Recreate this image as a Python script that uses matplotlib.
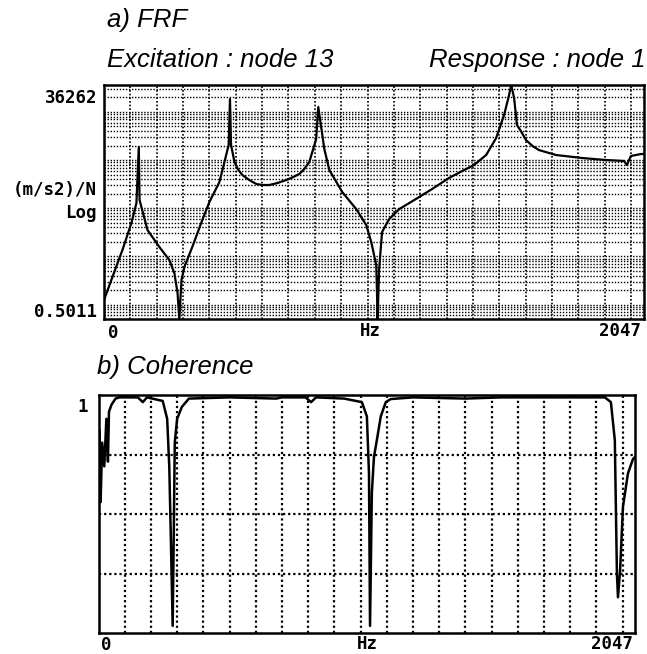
import numpy as np
import matplotlib.pyplot as plt

# ------------------------------- data ----------------------------------------------------

frf_hz = [0, 32, 70, 104, 123, 132, 135, 165, 210, 248, 267, 279, 286, 294, 305, 335,
          373, 400, 438, 457, 473, 478, 482, 495, 510, 525, 551, 578, 601, 627, 658,
          692, 718, 741, 760, 779, 805, 813, 836, 855, 904, 957, 995, 1014, 1033, 1036,
          1038, 1044, 1055, 1082, 1120, 1184, 1245, 1309, 1359, 1404, 1450, 1488, 1518,
          1537, 1545, 1556, 1567, 1584, 1601, 1626, 1650, 1715, 1814, 1904, 1973, 1984,
          1999, 2037, 2047]
frf_val = [1.24, 3.73, 13.6, 49.4, 128, 1870, 148, 35.3, 15.7, 8.4, 4.5, 1.74, 0.5011,
           3.23, 6.0, 15.7, 57, 135, 351, 913, 2060, 18560, 2060, 913, 623, 490, 386,
           319, 304, 304, 334, 386, 445, 514, 653, 913, 2740, 12650, 1700, 623, 217, 96,
           44.8, 19.9, 6.6, 1.58, 0.5011, 5.5, 32.1, 59.7, 96, 156, 251, 425, 593, 791,
           1275, 2875, 8640, 22480, 36262, 19470, 5350, 3830, 2615, 1960, 1620, 1275,
           1105, 1004, 958, 791, 1215, 1337, 1340]

coh_hz = [0, 4, 8, 14, 22, 30, 36, 40, 50, 65, 80, 150, 169, 185, 245, 262, 270, 276,
          283, 287, 291, 300, 318, 345, 500, 678, 700, 790, 811, 830, 937, 1005, 1024,
          1032, 1036, 1043, 1051, 1062, 1077, 1096, 1115, 1200, 1400, 1537, 1700, 1932,
          1955, 1970, 1974, 1978, 1982, 1990, 2001, 2020, 2039, 2047]
coh_val = [0.62, 0.85, 0.55, 0.80, 0.70, 0.90, 0.72, 0.93, 0.96, 0.985, 0.99, 0.99, 0.97,
           0.99, 0.975, 0.90, 0.70, 0.40, 0.03, 0.40, 0.80, 0.90, 0.95, 0.985, 0.99, 0.985,
           0.99, 0.99, 0.97, 0.99, 0.985, 0.97, 0.91, 0.67, 0.03, 0.59, 0.74, 0.81, 0.91,
           0.97, 0.983, 0.99, 0.985, 0.99, 0.99, 0.99, 0.97, 0.81, 0.53, 0.25, 0.15, 0.26,
           0.53, 0.67, 0.73, 0.74]

y_min, y_max = 0.5011, 36262
f_max = 2047

W, H = 647, 654


def fx(x):
    return x / W


def fy(y):
    return 1 - y / H


fig = plt.figure(figsize=(W / 100, H / 100), dpi=100)

mono = dict(family='DejaVu Sans Mono', weight='bold', fontsize=12.5, color='black')
ital = dict(family='Liberation Sans', style='italic', fontsize=18.5, color='black')

# ------------------------------- a) FRF --------------------------------
ax1 = fig.add_axes([fx(104), fy(319), 539.5 / W, 234 / H])
ax1.plot(frf_hz, frf_val, color='black', linewidth=1.6)
ax1.set_yscale('log')
ax1.set_xlim(0, f_max)
ax1.set_ylim(y_min, y_max)
ax1.set_xticks(np.arange(100, 2001, 100))
ax1.set_yticks([1, 10, 100, 1000, 10000])
minor = [m * 10.0 ** e for e in range(-1, 5) for m in range(2, 10)]
ax1.set_yticks([v for v in minor if y_min < v < y_max], minor=True)
ax1.grid(which='both', axis='y', color='black', linestyle=(0, (1, 1.2)), linewidth=1.0)
ax1.grid(which='major', axis='x', color='black', linestyle=(0, (1, 1.2)), linewidth=1.2)
ax1.tick_params(which='both', length=0, labelleft=False, labelbottom=False)
for s in ax1.spines.values():
    s.set_linewidth(1.8)

# ------------------------------- b) Coherence --------------------------------
ax2 = fig.add_axes([fx(98.5), fy(633), 536.5 / W, 238 / H])
ax2.plot(coh_hz, coh_val, color='black', linewidth=1.8)
ax2.set_xlim(0, f_max)
ax2.set_ylim(0, 1)
ax2.set_xticks(np.arange(100, 2001, 100))
ax2.set_yticks([0.25, 0.5, 0.75])
ax2.grid(which='major', color='black', linestyle=(0, (1, 1.3)), linewidth=1.6)
ax2.tick_params(which='both', length=0, labelleft=False, labelbottom=False)
for s in ax2.spines.values():
    s.set_linewidth(1.8)

# ------------------------------- text --------------------------------
fig.text(fx(107), fy(20), 'a) FRF', va='center', ha='left', **ital)
fig.text(fx(107), fy(60), 'Excitation : node 13', va='center', ha='left', **ital)
fig.text(fx(646), fy(60), 'Response : node 1', va='center', ha='right', **ital)
fig.text(fx(97), fy(367), 'b) Coherence', va='center', ha='left', **ital)

fig.text(fx(97), fy(98), '36262', va='center', ha='right', **mono)
fig.text(fx(97), fy(190), '(m/s2)/N', va='center', ha='right', **mono)
fig.text(fx(97), fy(213), 'Log', va='center', ha='right', **mono)
fig.text(fx(97), fy(312), '0.5011', va='center', ha='right', **mono)
fig.text(fx(113), fy(333), '0', va='center', ha='center', **mono)
fig.text(fx(370), fy(331), 'Hz', va='center', ha='center', **mono)
fig.text(fx(620), fy(331), '2047', va='center', ha='center', **mono)

fig.text(fx(83), fy(407), '1', va='center', ha='center', **mono)
fig.text(fx(106), fy(645), '0', va='center', ha='center', **mono)
fig.text(fx(367), fy(644), 'Hz', va='center', ha='center', **mono)
fig.text(fx(612), fy(644), '2047', va='center', ha='center', **mono)

fig.savefig('out.png', dpi=100, facecolor='white')
